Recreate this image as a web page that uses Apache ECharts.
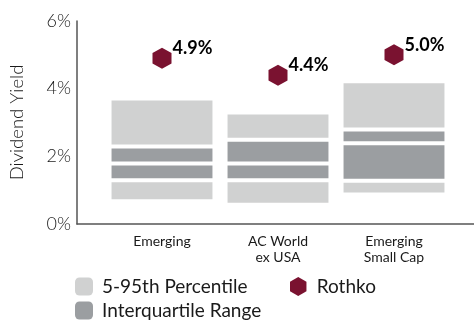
<!DOCTYPE html>
<html>
<head>
<meta charset="utf-8">
<script src="https://cdn.jsdelivr.net/npm/echarts@6/dist/echarts.min.js"></script>
<style>html,body{margin:0;padding:0;background:#fff}#c{width:474px;height:320px}</style>
</head>
<body>
<div id="c"></div>
<script>
var categories = ['Emerging', 'AC World\nex USA', 'Emerging\nSmall Cap'];
var p5 = [0.73, 0.63, 0.93];
var p25 = [1.29, 1.29, 1.28];
var median = [1.79, 1.79, 2.39];
var p75 = [2.29, 2.49, 2.79];
var p95 = [3.65, 3.24, 4.16];
var rothko = [4.9, 4.4, 5.0];
var yTicks = [0, 2, 4, 6];

var LIGHT = '#d0d1d1', DARK = '#9b9ea1', MAROON = '#7a1230';
var FONT = 'Lato';
var TXT = '#1a1a1a';
var HEX = 'path://M0,-1 L0.866,-0.5 L0.866,0.5 L0,1 L-0.866,0.5 L-0.866,-0.5 Z';

var rows = categories.map(function (c, i) { return [i, p5[i], p25[i], median[i], p75[i], p95[i]]; });

function makeRender(pairs, color) {
  return function (params, api) {
    var c = api.value(0);
    var w = api.size([1, 0])[0] * 0.87;
    var x = api.coord([c, 0])[0] - w / 2;
    var children = pairs.map(function (p) {
      var lo = api.value(p[0]), hi = api.value(p[1]);
      var yHi = api.coord([c, hi])[1] + (p[1] === 5 ? 0 : 2);
      var yLo = api.coord([c, lo])[1] - (p[0] === 1 ? 0 : 2);
      return { type: 'rect', shape: { x: x, y: yHi, width: w, height: yLo - yHi }, style: { fill: color } };
    });
    return { type: 'group', children: children };
  };
}

var chart = echarts.init(document.getElementById('c'), null, { renderer: 'canvas' });
chart.setOption({
  animation: false,
  textStyle: { fontFamily: FONT },
  grid: [
    { left: 76, right: 0, top: 21, bottom: 96 },
    { left: 104, right: 22, top: 21, bottom: 96 }
  ],
  xAxis: [
    { gridIndex: 0, type: 'category', data: categories, axisLabel: { show: false }, axisTick: { show: false },
      axisLine: { lineStyle: { color: '#555', width: 1.5 } } },
    { gridIndex: 1, type: 'category', data: categories, axisLine: { show: false }, axisTick: { show: false },
      axisLabel: { color: TXT, fontSize: 14, fontFamily: FONT, margin: 9, lineHeight: 16, interval: 0 } }
  ],
  yAxis: [
    { gridIndex: 0, type: 'value', min: yTicks[0], max: yTicks[yTicks.length - 1], interval: 2,
      axisLine: { show: true, lineStyle: { color: '#555', width: 1.5 } }, axisTick: { show: false }, splitLine: { show: false },
      axisLabel: { formatter: '{value}%', color: TXT, fontSize: 18, fontFamily: FONT, fontWeight: 300, margin: 6 },
      name: 'Dividend Yield', nameLocation: 'middle', nameGap: 50,
      nameTextStyle: { color: TXT, fontSize: 18.5, fontFamily: FONT, fontWeight: 300 } },
    { gridIndex: 1, type: 'value', min: 0, max: 6, show: false }
  ],
  legend: [
    { left: 75, top: 277, orient: 'vertical', padding: 0, itemWidth: 18, itemHeight: 18, itemGap: 5, icon: 'roundRect',
      data: ['5-95th Percentile', 'Interquartile Range'],
      textStyle: { color: TXT, fontSize: 19, fontFamily: FONT, padding: [0, 0, 0, 4] } },
    { left: 290, top: 277, padding: 0, itemWidth: 17, itemHeight: 19, icon: HEX,
      data: ['Rothko'], textStyle: { color: TXT, fontSize: 19, fontFamily: FONT, padding: [0, 0, 0, 5] } }
  ],
  series: [
    { name: '5-95th Percentile', type: 'custom', xAxisIndex: 1, yAxisIndex: 1, data: rows,
      encode: { x: 0, y: [1, 5] }, itemStyle: { color: LIGHT },
      renderItem: makeRender([[1, 2], [4, 5]], LIGHT) },
    { name: 'Interquartile Range', type: 'custom', xAxisIndex: 1, yAxisIndex: 1, data: rows,
      encode: { x: 0, y: [2, 4] }, itemStyle: { color: DARK },
      renderItem: makeRender([[2, 3], [3, 4]], DARK) },
    { name: 'Rothko', type: 'scatter', xAxisIndex: 1, yAxisIndex: 1, data: rothko,
      symbol: HEX, symbolSize: [19, 21], itemStyle: { color: MAROON, opacity: 1 },
      label: { show: true, position: 'right', distance: 1, offset: [0, -10],
        formatter: function (p) { return p.value.toFixed(1) + '%'; },
        color: '#000', fontSize: 18, fontWeight: 'bold', fontFamily: FONT } }
  ]
});
</script>
</body>
</html>
